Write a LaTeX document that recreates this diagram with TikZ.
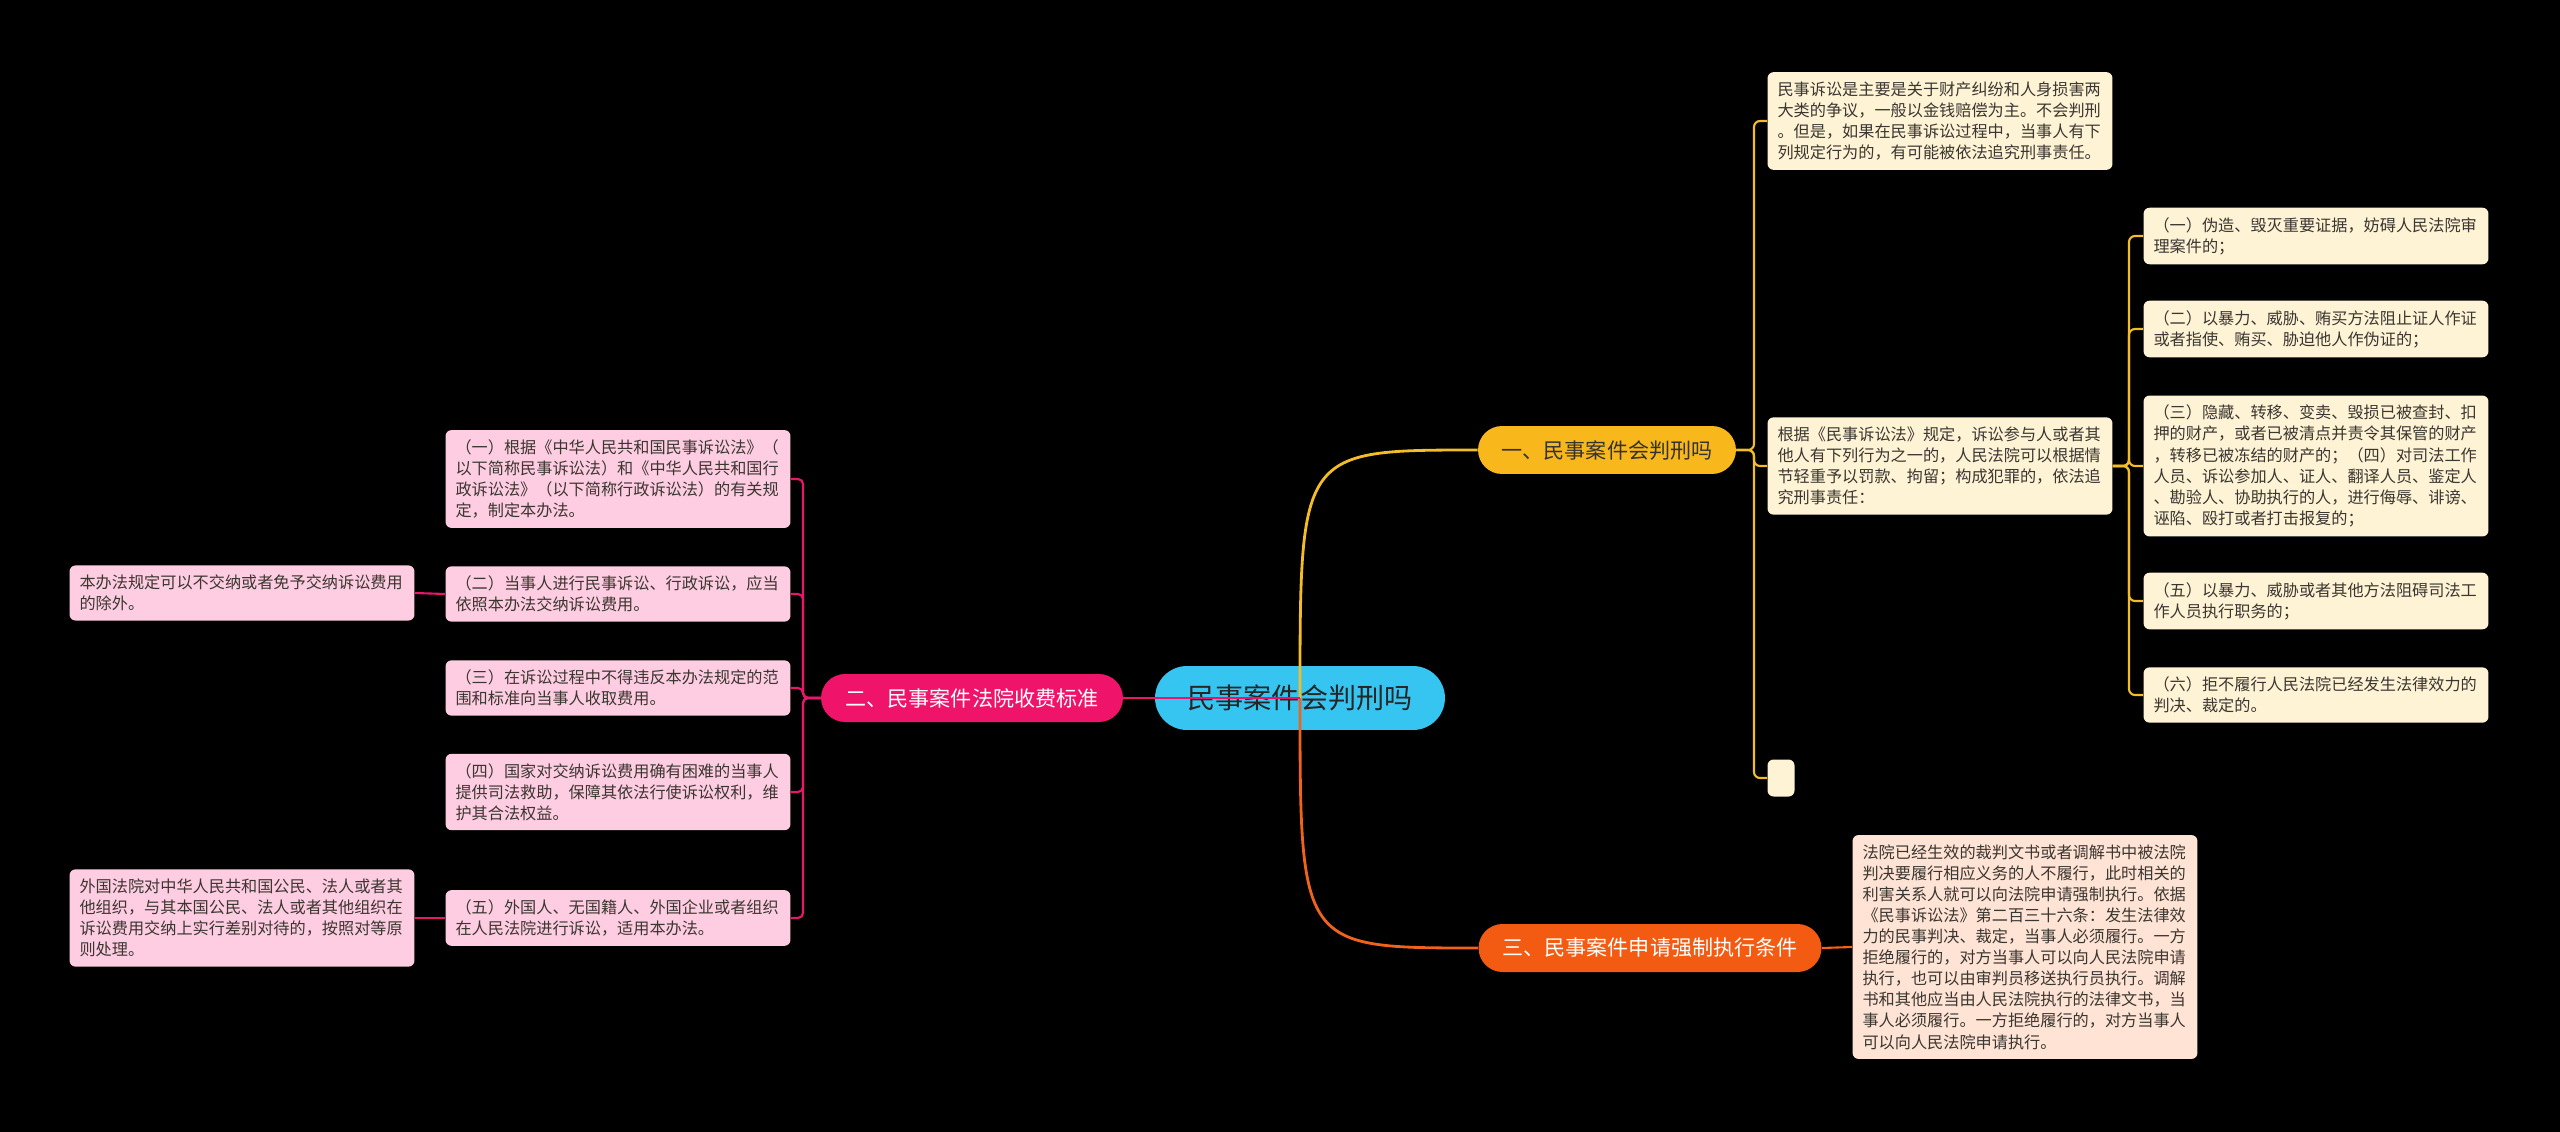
\documentclass[tikz,border=0pt]{standalone}
\usepackage{fontspec}
\setmainfont{Noto Sans CJK SC}
\usepackage{xcolor}
\usetikzlibrary{calc}

\definecolor{rootfill}{HTML}{36C5F0}
\definecolor{onefill}{HTML}{F8B71A}
\definecolor{twofill}{HTML}{F0136A}
\definecolor{threefill}{HTML}{F35B12}
\definecolor{creamfill}{HTML}{FFF3D6}
\definecolor{pinkfill}{HTML}{FFCDE2}
\definecolor{peachfill}{HTML}{FFE3D5}
\definecolor{yelline}{HTML}{F3BD28}
\definecolor{pinkline}{HTML}{E9176C}
\definecolor{orline}{HTML}{F0631A}
\definecolor{boxtext}{HTML}{3A3630}

\begin{document}
\begin{tikzpicture}[x=0.02cm, y=-0.02cm,
  rootnode/.style={fill=rootfill, text=black!85, rounded corners=0.64cm,
    minimum width=5.8cm, minimum height=1.28cm, font=\fontsize{16}{19}\selectfont},
  mainnode/.style={rounded corners=0.48cm, minimum height=0.96cm,
    font=\fontsize{12}{14}\selectfont},
  leafnode/.style={rounded corners=0.12cm, text width=6.5cm, align=left,
    inner xsep=0.2cm, inner ysep=0.19cm, text=boxtext,
    font=\fontsize{9.2}{12}\selectfont},
  wire/.style={line width=1.2pt, rounded corners=0.12cm},
  bigwire/.style={line width=1.6pt}]
  \fill[black] (0,0) rectangle (2560,1132);

  % centre and the three branches
  \node[rootnode] (root) at (1300,698) {民事案件会判刑吗};
  \node[mainnode, fill=onefill, text=black!80, minimum width=5.16cm] (b1) at (1607,450) {一、民事案件会判刑吗};
  \node[mainnode, fill=twofill, text=white, minimum width=6.04cm] (b2) at (972,698) {二、民事案件法院收费标准};
  \node[mainnode, fill=threefill, text=white, minimum width=6.86cm] (b3) at (1650,948) {三、民事案件申请强制执行条件};

  % branch one
  \node[leafnode, fill=creamfill] (a1) at (1940,121) {民事诉讼是主要是关于财产纠纷和人身损害两\\大类的争议，一般以金钱赔偿为主。不会判刑\\。但是，如果在民事诉讼过程中，当事人有下\\列规定行为的，有可能被依法追究刑事责任。};
  \node[leafnode, fill=creamfill] (a2) at (1940,466) {根据《民事诉讼法》规定，诉讼参与人或者其\\他人有下列行为之一的，人民法院可以根据情\\节轻重予以罚款、拘留；构成犯罪的，依法追\\究刑事责任：};
  \node[fill=creamfill, rounded corners=0.12cm, minimum width=0.54cm, minimum height=0.74cm, inner sep=0pt] (a3) at (1781,778) {};
  \node[leafnode, fill=creamfill] (c1) at (2316,236) {（一）伪造、毁灭重要证据，妨碍人民法院审\\理案件的；};
  \node[leafnode, fill=creamfill] (c2) at (2316,329) {（二）以暴力、威胁、贿买方法阻止证人作证\\或者指使、贿买、胁迫他人作伪证的；};
  \node[leafnode, fill=creamfill] (c3) at (2316,466) {（三）隐藏、转移、变卖、毁损已被查封、扣\\押的财产，或者已被清点并责令其保管的财产\\，转移已被冻结的财产的；（四）对司法工作\\人员、诉讼参加人、证人、翻译人员、鉴定人\\、勘验人、协助执行的人，进行侮辱、诽谤、\\诬陷、殴打或者打击报复的；};
  \node[leafnode, fill=creamfill] (c4) at (2316,601) {（五）以暴力、威胁或者其他方法阻碍司法工\\作人员执行职务的；};
  \node[leafnode, fill=creamfill] (c5) at (2316,695) {（六）拒不履行人民法院已经发生法律效力的\\判决、裁定的。};

  % branch two
  \node[leafnode, fill=pinkfill] (e1) at (618,479) {（一）根据《中华人民共和国民事诉讼法》（\\以下简称民事诉讼法）和《中华人民共和国行\\政诉讼法》（以下简称行政诉讼法）的有关规\\定，制定本办法。};
  \node[leafnode, fill=pinkfill] (e2) at (618,594) {（二）当事人进行民事诉讼、行政诉讼，应当\\依照本办法交纳诉讼费用。};
  \node[leafnode, fill=pinkfill] (e3) at (618,688) {（三）在诉讼过程中不得违反本办法规定的范\\围和标准向当事人收取费用。};
  \node[leafnode, fill=pinkfill] (e4) at (618,792) {（四）国家对交纳诉讼费用确有困难的当事人\\提供司法救助，保障其依法行使诉讼权利，维\\护其合法权益。};
  \node[leafnode, fill=pinkfill] (e5) at (618,918) {（五）外国人、无国籍人、外国企业或者组织\\在人民法院进行诉讼，适用本办法。};
  \node[leafnode, fill=pinkfill] (f1) at (242,593) {本办法规定可以不交纳或者免予交纳诉讼费用\\的除外。};
  \node[leafnode, fill=pinkfill] (f2) at (242,918) {外国法院对中华人民共和国公民、法人或者其\\他组织，与其本国公民、法人或者其他组织在\\诉讼费用交纳上实行差别对待的，按照对等原\\则处理。};

  % branch three
  \node[leafnode, fill=peachfill] (d1) at (2025,947) {法院已经生效的裁判文书或者调解书中被法院\\判决要履行相应义务的人不履行，此时相关的\\利害关系人就可以向法院申请强制执行。依据\\《民事诉讼法》第二百三十六条：发生法律效\\力的民事判决、裁定，当事人必须履行。一方\\拒绝履行的，对方当事人可以向人民法院申请\\执行，也可以由审判员移送执行员执行。调解\\书和其他应当由人民法院执行的法律文书，当\\事人必须履行。一方拒绝履行的，对方当事人\\可以向人民法院申请执行。};

  % trunks
  \coordinate (ta) at (1754,450);
  \coordinate (tb) at (803,698);
  \coordinate (tc) at (2129,466);

  % connectors
  \draw[bigwire, yelline] (root.center) .. controls (root.center |- b1.west) .. (b1.west);
  \draw[bigwire, orline] (root.center) .. controls (root.center |- b3.west) .. (b3.west);
  \draw[bigwire, pinkline] (root.center) -- (b2.east);
  \foreach \n in {a1,a2,a3}
    \draw[wire, yelline] (b1.east) -- (b1.east -| ta) |- (\n.west);
  \foreach \n in {c1,c2,c3,c4,c5}
    \draw[wire, yelline] (a2.east) -- (a2.east -| tc) |- (\n.west);
  \foreach \n in {e1,e2,e3,e4,e5}
    \draw[wire, pinkline, rounded corners=0.1cm] (b2.west) -- (b2.west -| tb) |- (\n.east);
  \draw[wire, pinkline] (e2.west) -- (f1.east);
  \draw[wire, pinkline] (e5.west) -- (f2.east);
  \draw[wire, orline] (b3.east) -- (d1.west);
\end{tikzpicture}
\end{document}
